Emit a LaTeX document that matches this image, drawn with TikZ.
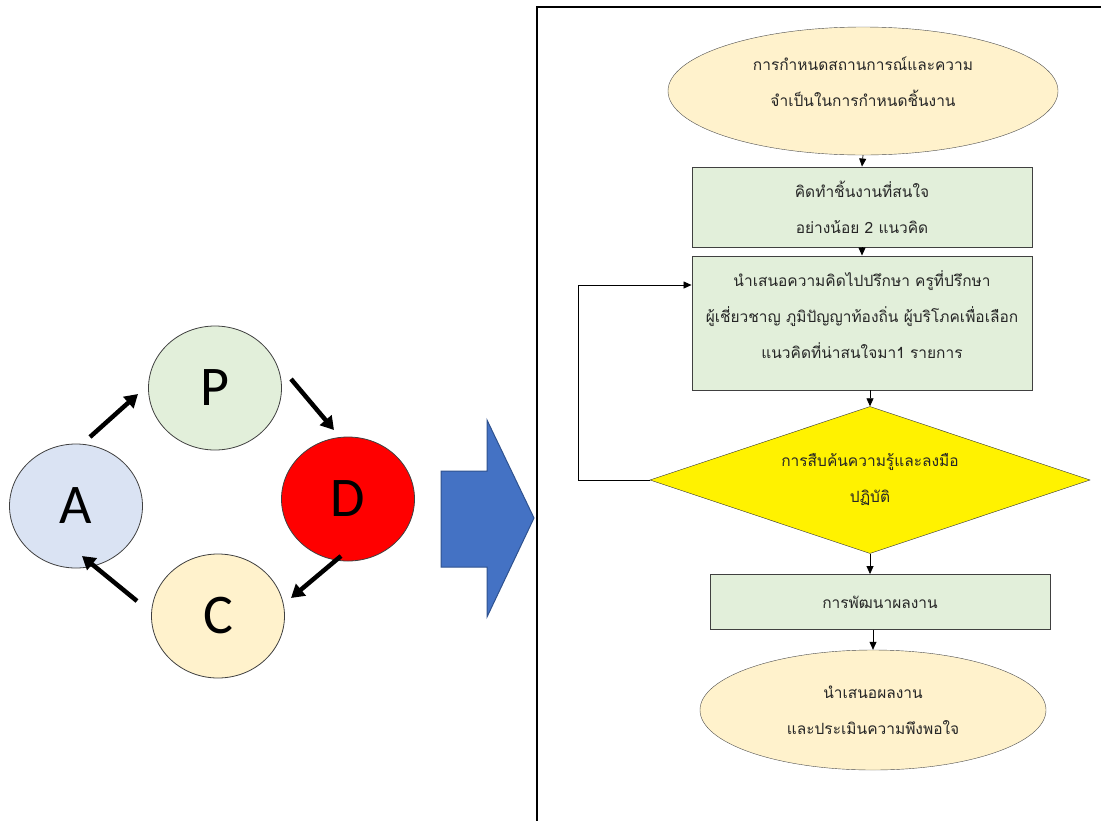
\documentclass[tikz,border=0pt]{standalone}
\usepackage{fontspec}
\newfontfamily\thaifont[Script=Thai]{Loma}
\setsansfont{Carlito}
\usetikzlibrary{shapes.geometric,arrows.meta}
\definecolor{cream}{HTML}{FFF2CC}
\definecolor{lgreen}{HTML}{E2EFDA}
\definecolor{lblue}{HTML}{DAE3F3}
\definecolor{bigblue}{HTML}{4472C4}
\definecolor{bigblueline}{HTML}{2F528F}
\definecolor{boxline}{HTML}{404040}
\tikzset{
  thai/.style={font=\thaifont\fontsize{15.5}{36}\selectfont, text=black!85, align=center},
  oval/.style={ellipse, draw=black!70, fill=cream, inner sep=0pt, thai},
  stepbox/.style={rectangle, draw=boxline, line width=0.9pt, fill=lgreen, inner sep=0pt, thai},
  decide/.style={diamond, aspect=3, draw=black!80, fill=yellow, inner sep=0pt, thai},
  flow/.style={draw=black, line width=0.7pt, -{Triangle[length=8pt,width=7pt]}},
  letter/.style={ellipse, draw=black!75, line width=0.8pt, inner sep=0pt,
    minimum width=133pt, minimum height=124pt, font=\sffamily\fontsize{56}{60}\selectfont},
  pdca/.style={draw=black, line width=4.5pt, -{Triangle[length=13pt,width=15pt]}}
}
\begin{document}
\begin{tikzpicture}[x=1pt,y=-1pt]
\useasboundingbox (0,0) rectangle (1101,820);
% PDCA cycle
\node[letter, fill=lgreen] (P) at (215,388) {P};
\node[letter, fill=lblue] (A) at (76,506) {A};
\node[letter, fill=red] (D) at (348,499) {D};
\node[letter, fill=cream] (C) at (218,616) {C};
\coordinate (ap1) at (90,437);
\coordinate (ap2) at (138,394);
\coordinate (pd1) at (291,379);
\coordinate (pd2) at (334,430);
\coordinate (dc1) at (341,556);
\coordinate (dc2) at (291,598);
\coordinate (ca1) at (137,601);
\coordinate (ca2) at (82,556);
\draw[pdca] (ap1) -- (ap2);
\draw[pdca] (pd1) -- (pd2);
\draw[pdca] (dc1) -- (dc2);
\draw[pdca] (ca1) -- (ca2);
% big arrow
\draw[fill=bigblue, draw=bigblueline, line width=1pt]
  (441,471) -- (487,471) -- (487,420) -- (534,518) -- (487,617) -- (487,567) -- (441,567) -- cycle;
% frame
\draw[line width=1.2pt] (537,821) -- (537,7) -- (1102,7);
% flowchart
\node[oval, minimum width=390pt, minimum height=128pt, text depth=18pt] (top) at (863,91)
  {การกำหนดสถานการณ์และความ\\จำเป็นในการกำหนดชิ้นงาน};
\node[stepbox, minimum width=340pt, minimum height=80pt] (b1) at (862,207)
  {คิดทำชิ้นงานที่สนใจ\\อย่างน้อย 2 แนวคิด};
\node[stepbox, minimum width=340pt, minimum height=134pt, text depth=16pt] (b2) at (862,323)
  {นำเสนอความคิดไปปรึกษา ครูที่ปรึกษา\\ผู้เชี่ยวชาญ ภูมิปัญญาท้องถิ่น ผู้บริโภคเพื่อเลือก\\แนวคิดที่น่าสนใจมา1 รายการ};
\node[decide, minimum width=440pt, minimum height=147pt] (dia) at (870,480)
  {การสืบค้นความรู้และลงมือ\\ปฏิบัติ};
\node[stepbox, minimum width=340pt, minimum height=55pt] (b3) at (880,602)
  {การพัฒนาผลงาน};
\node[oval, minimum width=346pt, minimum height=120pt] (bot) at (873,710)
  {นำเสนอผลงาน\\และประเมินความพึงพอใจ};
\draw[flow] (top.south) -- (b1.north);
\draw[flow] (b1.south) -- (b2.north);
\draw[flow] (dia.north |- b2.south) -- (dia.north);
\draw[flow] (dia.south) -- (dia.south |- b3.north);
\draw[flow] (bot.north |- b3.south) -- (bot.north);
\coordinate (loop) at (578,285);
\draw[flow] (dia.west) -| (loop) -- (b2.west |- loop);
\end{tikzpicture}
\end{document}
